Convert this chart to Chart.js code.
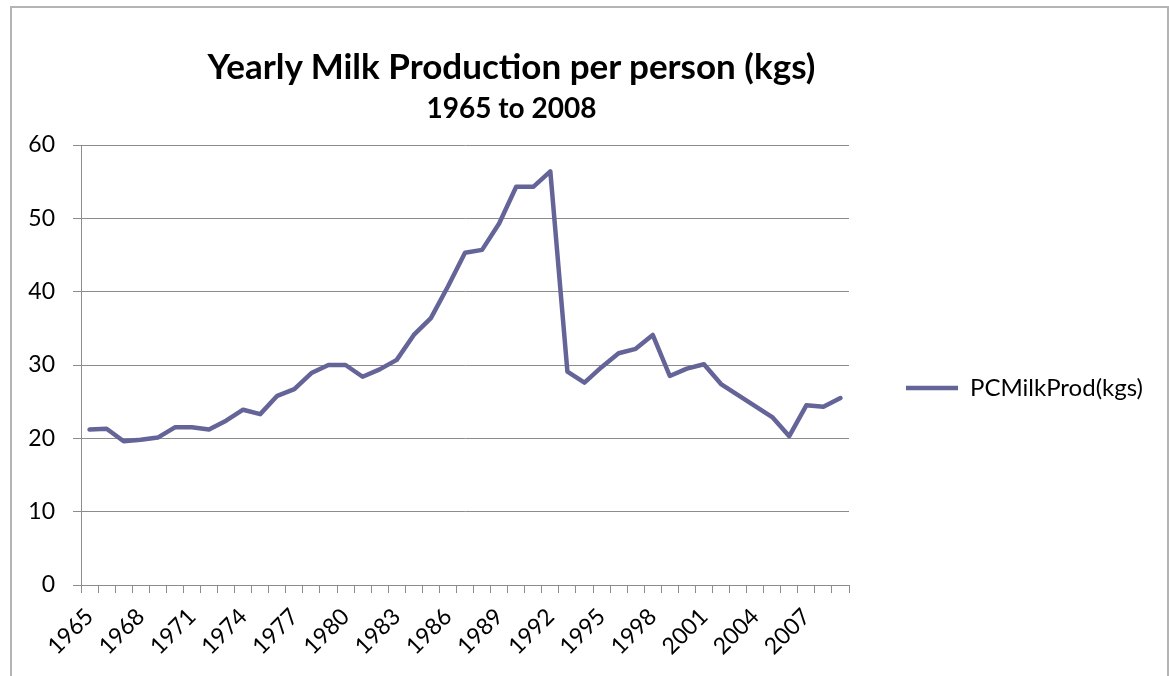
<!DOCTYPE html>
<html>
<head>
<meta charset="utf-8">
<title>Yearly Milk Production per person</title>
<script src="https://cdn.jsdelivr.net/npm/chart.js@4.4.1/dist/chart.umd.min.js"></script>
<style>
  html, body { margin: 0; padding: 0; background: #fff; }
  #wrap { position: relative; width: 1169px; height: 676px; overflow: hidden; font-family: Lato, "Open Sans", sans-serif; }
  #frame {
    position: absolute; left: 10px; top: 6px; width: 1155px; height: 700px;
    border: 2px solid #b4b4b4; pointer-events: none;
  }
  canvas { position: absolute; left: 0; top: 0; }
  .heading {
    position: absolute; left: 0; width: 1023px; text-align: center;
    color: #000; font-weight: bold; white-space: nowrap;
  }
  #title { top: 45px; font-size: 35px; line-height: 40px; }
  #subtitle { top: 90px; font-size: 28px; line-height: 34px; }
</style>
</head>
<body>
<div id="wrap">
  <canvas id="milkChart" width="1169" height="676"></canvas>
  <div id="title" class="heading"></div>
  <div id="subtitle" class="heading"></div>
  <div id="frame"></div>
</div>
<script>
// --- Data ---
const years = [
  1965, 1966, 1967, 1968, 1969, 1970, 1971, 1972, 1973, 1974,
  1975, 1976, 1977, 1978, 1979, 1980, 1981, 1982, 1983, 1984,
  1985, 1986, 1987, 1988, 1989, 1990, 1991, 1992, 1993, 1994,
  1995, 1996, 1997, 1998, 1999, 2000, 2001, 2002, 2003, 2004,
  2005, 2006, 2007, 2008, 2009
];
const milkPerPerson = [
  21.2, 21.3, 19.6, 19.8, 20.1, 21.5, 21.5, 21.2, 22.4, 23.9,
  23.3, 25.8, 26.7, 28.9, 30.0, 30.0, 28.4, 29.4, 30.7, 34.1,
  36.4, 40.7, 45.3, 45.7, 49.3, 54.3, 54.3, 56.4, 29.1, 27.6,
  29.7, 31.6, 32.2, 34.1, 28.5, 29.5, 30.1, 27.4, 25.9, 24.4,
  22.9, 20.3, 24.5, 24.3, 25.5
];
const seriesName = 'PCMilkProd(kgs)';
const titleText = 'Yearly Milk Production per person (kgs)';
const subtitleText = '1965 to 2008';
const yTicks = [0, 10, 20, 30, 40, 50, 60];
const labelEvery = 3;

// --- Styles ---
const FONT = 'Lato, "Open Sans", sans-serif';
const LINE_COLOR = '#646498';
const GRID_COLOR = '#8c8c8c';

document.getElementById('title').textContent = titleText;
document.getElementById('subtitle').textContent = subtitleText;

const ctx = document.getElementById('milkChart');

new Chart(ctx, {
  type: 'line',
  data: {
    labels: years.map(String),
    datasets: [{
      label: seriesName,
      data: milkPerPerson,
      borderColor: LINE_COLOR,
      backgroundColor: LINE_COLOR,
      borderWidth: 4.5,
      pointRadius: 0,
      tension: 0,
      borderJoinStyle: 'round',
      borderCapStyle: 'round'
    }]
  },
  options: {
    responsive: false,
    animation: false,
    layout: { padding: { left: 11, right: 16, top: 145, bottom: 0 } },
    plugins: {
      title: { display: false },
      legend: {
        position: 'right',
        fullSize: false,
        maxWidth: 340,
        title: {
          // empty title only pushes the entry down a little
          display: true,
          text: ' ',
          font: { family: FONT, size: 10 },
          padding: { top: 0, bottom: 34 }
        },
        labels: {
          color: '#000',
          font: { family: FONT, size: 24 },
          usePointStyle: true,
          pointStyle: 'line',
          pointStyleWidth: 52,
          padding: 57
        }
      },
      tooltip: { enabled: false }
    },
    scales: {
      x: {
        offset: true,
        afterFit: scale => { scale.height = 91; },
        grid: {
          offset: true,
          drawOnChartArea: false,
          drawTicks: true,
          tickLength: 8,
          color: GRID_COLOR
        },
        border: { display: true, color: GRID_COLOR, width: 1 },
        ticks: {
          autoSkip: false,
          minRotation: 45,
          maxRotation: 45,
          padding: 10,
          color: '#000',
          font: { family: FONT, size: 23 },
          callback: function (val, idx) {
            return idx % labelEvery === 0 ? this.getLabelForValue(val) : '';
          }
        }
      },
      y: {
        min: yTicks[0],
        max: yTicks[yTicks.length - 1],
        afterBuildTicks: axis => { axis.ticks = yTicks.map(v => ({ value: v })); },
        afterFit: scale => { scale.width = 70; },
        grid: {
          color: GRID_COLOR,
          drawTicks: true,
          tickLength: 8
        },
        border: { display: true, color: GRID_COLOR, width: 1 },
        ticks: {
          padding: 18,
          color: '#000',
          font: { family: FONT, size: 23 }
        }
      }
    }
  }
});
</script>
</body>
</html>
